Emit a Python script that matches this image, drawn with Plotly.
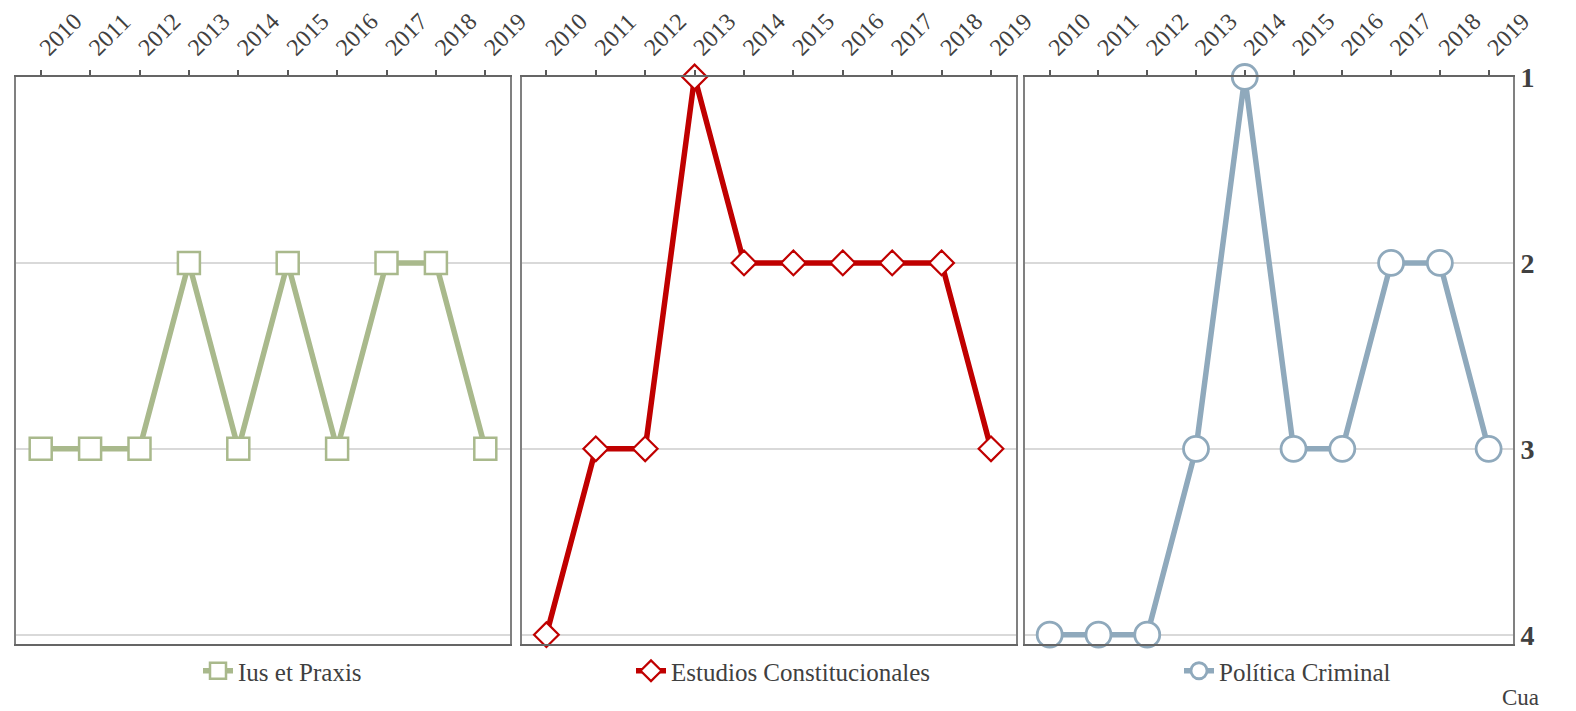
import plotly.graph_objects as go

years = ["2010", "2011", "2012", "2013", "2014", "2015", "2016", "2017", "2018", "2019"]
ius_et_praxis = [3, 3, 3, 2, 3, 2, 3, 2, 2, 3]
estudios_constitucionales = [4, 3, 3, 1, 2, 2, 2, 2, 2, 3]
politica_criminal = [4, 4, 4, 3, 1, 3, 3, 2, 2, 3]
rank_ticks = [1, 2, 3, 4]
series_names = ["Ius et Praxis", "Estudios Constitucionales", "Política Criminal"]

GREEN = "#A9B98C"
RED = "#C00000"
BLUE = "#8FA9BC"
FONT = "Liberation Serif, Times New Roman, serif"

W, H = 1576, 711
OFF = 8  # page body margin offset
# target frame in page pixels: left 16, right 1513, top 77, bottom 644
ML = 16 - OFF
MT = 77 - OFF
MR = W - (1513 - OFF)
MB = H - (644 - OFF)
PW = W - ML - MR
PH = H - MT - MB


def px_x(p):
    return (p - OFF - ML) / PW


def px_y(p):
    return (H - MB - (p - OFF)) / PH


fig = go.Figure()

fig.add_trace(go.Scatter(
    x=years, y=ius_et_praxis, name=series_names[0], mode="lines+markers",
    xaxis="x", yaxis="y", legend="legend", cliponaxis=False,
    line=dict(color=GREEN, width=5.5),
    marker=dict(symbol="square", size=22, color="white", line=dict(color=GREEN, width=2.5)),
))
fig.add_trace(go.Scatter(
    x=years, y=estudios_constitucionales, name=series_names[1], mode="lines+markers",
    xaxis="x2", yaxis="y2", legend="legend2", cliponaxis=False,
    line=dict(color=RED, width=5.5),
    marker=dict(symbol="diamond", size=19, color="white", line=dict(color=RED, width=2.2)),
))
fig.add_trace(go.Scatter(
    x=years, y=politica_criminal, name=series_names[2], mode="lines+markers",
    xaxis="x3", yaxis="y3", legend="legend3", cliponaxis=False,
    line=dict(color=BLUE, width=5.5),
    marker=dict(symbol="circle", size=25, color="white", line=dict(color=BLUE, width=2.8)),
))

domains = [
    [0.0, px_x(510)],
    [px_x(521.7), px_x(1015.7)],
    [px_x(1025.3), 1.0],
]

xcommon = dict(
    type="category", range=[-0.5, 9.5], side="top", tickangle=-45,
    ticks="outside", ticklen=5, tickwidth=1.5, tickcolor="#595959",
    showline=True, linecolor="#656565", linewidth=2, mirror=True,
    showgrid=False, zeroline=False, automargin=False,
    tickfont=dict(family=FONT, size=24, color="#404040"),
)
ycommon = dict(
    range=[4.05, 1.0], tickvals=rank_ticks, showgrid=True, gridcolor="#D9D9D9",
    gridwidth=1.5, zeroline=False, showline=True, linecolor="#808080",
    linewidth=2, mirror=True, ticks="", automargin=False,
)

layout = dict(
    width=W, height=H,
    margin=dict(l=ML, r=MR, t=MT, b=MB, autoexpand=False),
    paper_bgcolor="white", plot_bgcolor="white",
    font=dict(family=FONT, color="#404040"),
)
for i, d in enumerate(domains):
    sx = "" if i == 0 else str(i + 1)
    layout["xaxis" + sx] = dict(domain=d, anchor="y" + sx, **xcommon)
    yax = dict(domain=[0, 1], anchor="x" + sx, **ycommon)
    if i < 2:
        yax["showticklabels"] = False
    else:
        yax["side"] = "right"
        yax["showticklabels"] = True
        yax["ticklabelstandoff"] = 0
        yax["tickfont"] = dict(family=FONT, size=28, color="#404040", weight="bold")
    layout["yaxis" + sx] = yax

leg_common = dict(
    orientation="h", yanchor="middle", xanchor="left", y=px_y(671),
    font=dict(family=FONT, size=25, color="#404040"), bgcolor="rgba(0,0,0,0)",
)
layout["legend"] = dict(x=px_x(198), **leg_common)
layout["legend2"] = dict(x=px_x(631), **leg_common)
layout["legend3"] = dict(x=px_x(1179), **leg_common)
layout["showlegend"] = True

fig.update_layout(**layout)

fig.add_annotation(
    text="Cua", xref="paper", yref="paper", x=px_x(1500), y=px_y(697),
    xanchor="left", yanchor="middle", showarrow=False,
    font=dict(family=FONT, size=23, color="#404040"),
)

fig.write_html("out.html")
